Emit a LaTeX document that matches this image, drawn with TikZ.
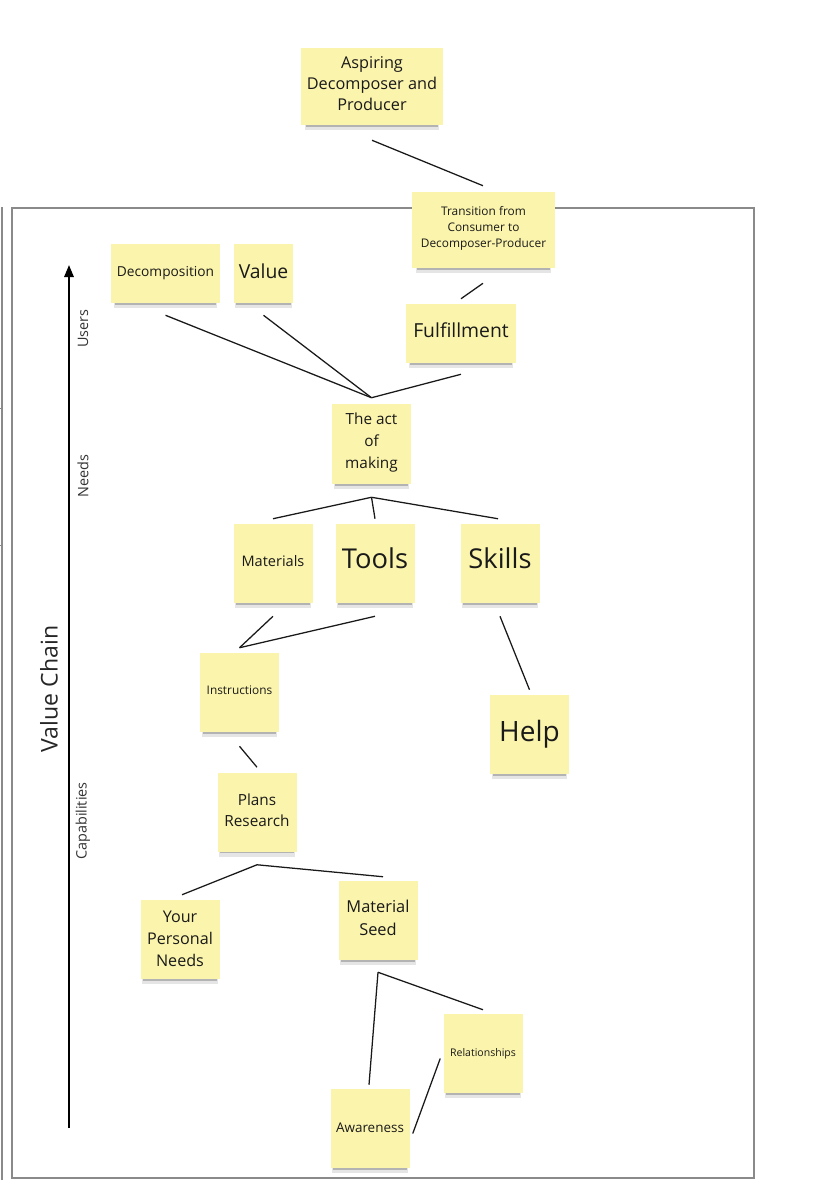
\documentclass[tikz,border=0pt]{standalone}
\usepackage{fontspec}
\setmainfont{Open Sans}
\usetikzlibrary{calc,shadows,arrows.meta}
\definecolor{notefill}{HTML}{FBF4AC}
\definecolor{txt}{HTML}{1A1A1A}
\definecolor{framegray}{HTML}{8A8A8A}
\tikzset{
  note/.style={fill=notefill, draw=none, align=center, text=txt, inner sep=1pt,
    drop shadow={shadow xshift=0pt, shadow yshift=-5.5pt, shadow scale=0.95, opacity=0.10, fill=black},
    drop shadow={shadow xshift=0pt, shadow yshift=-3.5pt, shadow scale=0.93, opacity=0.22, fill=black}},
  sq/.style={note, minimum width=59.25pt, minimum height=59.25pt},
  conn/.style={draw=black!90, line width=0.95pt},
  axislabel/.style={text=black!80, rotate=90, font=\fontsize{10.8}{12}\selectfont},
}
\begin{document}
\begin{tikzpicture}[x=0.75pt,y=-0.75pt]
\useasboundingbox (0,0) rectangle (827,1200);
% frames
\draw[framegray, line width=0.8pt] (2,207) -- (2,1180);
\draw[framegray, line width=0.6pt] (0,408) -- (3,408) (0,545) -- (3,545);
\node[draw=framegray, line width=0.9pt, minimum width=556.5pt, minimum height=727.5pt, inner sep=0pt] (frame) at (383,693) {};
% axis
\coordinate (axbot) at (69,1128);
\coordinate (axtop) at (69,265);
\draw[line width=1.5pt, -{Triangle[length=9pt,width=7pt]}] (axbot) -- (axtop);
\node[axislabel] (users) at (83,328.5) {Users};
\node[axislabel] (needs) at (83,476) {Needs};
\node[axislabel] (capab) at (83,821) {Capabilities};
\node[text=black!85, rotate=90, font=\fontsize{17.3}{20}\selectfont] (vchain) at (49,689) {Value Chain};
% notes
\node[note, minimum width=106.5pt, minimum height=57.75pt, text depth=4.5pt, font=\fontsize{12.2}{15.8}\selectfont] (asp) at (372,86.5) {Aspiring\\Decomposer and\\Producer};
\node[note, minimum width=107.25pt, minimum height=57pt, text depth=5pt, font=\fontsize{8.9}{12}\selectfont] (trans) at (483.5,230) {Transition from\\Consumer to\\Decomposer-Producer};
\node[note, minimum width=81.75pt, minimum height=44.25pt, font=\fontsize{10.3}{12}\selectfont] (dec) at (165.5,273.5) {Decomposition};
\node[note, minimum width=44.25pt, minimum height=44.25pt, text depth=3pt, font=\fontsize{14.5}{16}\selectfont] (val) at (263.5,273.5) {Value};
\node[note, minimum width=82.5pt, minimum height=44.25pt, text depth=4.5pt, font=\fontsize{14.5}{16}\selectfont] (ful) at (461,333.5) {Fulfillment};
\node[note, minimum width=59.25pt, minimum height=60pt, text depth=4.3pt, font=\fontsize{11.5}{16.5}\selectfont] (act) at (371.5,444) {The act\\of\\making};
\node[sq, text depth=4.5pt, font=\fontsize{10.9}{12}\selectfont] (mat) at (273,563.5) {Materials};
\node[sq, text depth=7.5pt, font=\fontsize{20.5}{22}\selectfont] (tools) at (375,563.5) {Tools};
\node[sq, text depth=7.5pt, font=\fontsize{20.5}{22}\selectfont] (skills) at (500,563.5) {Skills};
\node[sq, text depth=3pt, font=\fontsize{8.9}{10}\selectfont] (instr) at (239.5,692.5) {Instructions};
\node[sq, text depth=6pt, font=\fontsize{21}{22}\selectfont] (help) at (529.5,734.5) {Help};
\node[sq, text depth=2.2pt, font=\fontsize{11.5}{15.8}\selectfont] (plans) at (257,812) {Plans\\Research};
\node[sq, text depth=1.5pt, font=\fontsize{12.1}{16.5}\selectfont] (your) at (180,939.5) {Your\\Personal\\Needs};
\node[sq, text depth=3.8pt, font=\fontsize{12.3}{17}\selectfont] (seed) at (378,920.5) {Material\\Seed};
\node[sq, font=\fontsize{7.9}{10}\selectfont] (rel) at (483,1053.5) {Relationships};
\node[sq, text depth=1.5pt, font=\fontsize{10.1}{12}\selectfont] (aw) at (370,1128.5) {Awareness};
% junctions
\coordinate (j1) at ($(act.north)+(0,-6)$);
\coordinate (j2) at ($(act.south)+(0,13)$);
\coordinate (j3) at ($(instr.north)+(0,-5)$);
\coordinate (j4) at ($(plans.south)+(0,13)$);
\coordinate (j5) at ($(seed.south)+(0,12)$);
% connectors
\draw[conn] ($(asp.south)+(0,15)$) -- ($(trans.north)+(-0.5,-6)$);
\draw[conn] ($(trans.south)+(-0.5,15)$) -- ($(ful.north)+(0,-5)$);
\draw[conn] ($(dec.south)+(0,12)$) -- (j1);
\draw[conn] ($(val.south)+(0,12)$) -- (j1);
\draw[conn] ($(ful.south)+(0,11)$) -- (j1);
\draw[conn] (j2) -- ($(mat.north)+(0,-5)$);
\draw[conn] (j2) -- ($(tools.north)+(0,-5)$);
\draw[conn] (j2) -- ($(skills.north)+(-2,-5)$);
\draw[conn] ($(mat.south)+(0,13)$) -- (j3);
\draw[conn] ($(tools.south)+(0,13)$) -- (j3);
\draw[conn] ($(skills.south)+(0,13)$) -- ($(help.north)+(0,-5)$);
\draw[conn] ($(instr.south)+(0,14)$) -- ($(plans.north)+(0,-5)$);
\draw[conn] (j4) -- ($(your.north)+(2,-5)$);
\draw[conn] (j4) -- ($(seed.north)+(5,-4)$);
\draw[conn] (j5) -- ($(aw.north)+(-1,-4)$);
\draw[conn] (j5) -- ($(rel.north)+(0,-4)$);
\draw[conn] ($(aw.east)+(3,5)$) -- ($(rel.west)+(-3,5)$);
\end{tikzpicture}
\end{document}
